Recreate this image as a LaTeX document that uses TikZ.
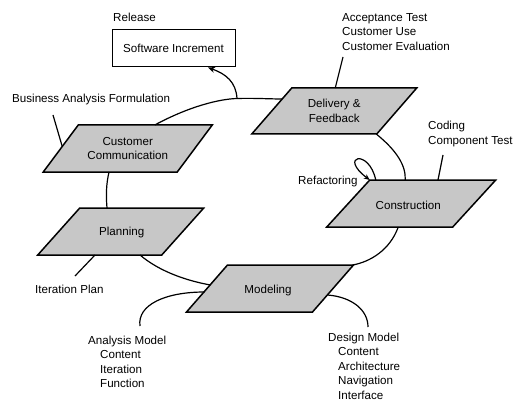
\documentclass[tikz,border=0pt]{standalone}
\usepackage{fontspec}
\setmainfont{Liberation Sans}
\usetikzlibrary{calc,arrows.meta}

% parallelogram around a named point: name, half edge, half slant, half height
\newcommand{\pgshape}[4]{%
  \filldraw[pgbody] ($(#1)+(-#2+#3,-#4)$) -- ($(#1)+(#2+#3,-#4)$)
    -- ($(#1)+(#2-#3,#4)$) -- ($(#1)+(-#2-#3,#4)$) -- cycle;}

\begin{document}
\begin{tikzpicture}[x=1pt,y=-1pt,
  font=\fontsize{11.6}{14.5}\selectfont,
  pgbody/.style={fill=black!22,draw=black,line width=1.5pt,line join=miter},
  phase/.style={inner sep=0pt,align=center},
  note/.style={inner sep=0pt,anchor=west,align=left},
  link/.style={draw=black,line width=1.2pt},
  boxstyle/.style={draw=black,line width=1pt,minimum width=123pt,minimum height=37pt,inner sep=0pt}]

\useasboundingbox (0,0) rectangle (522,401);

% phase centres
\coordinate (ccp) at (127.75,148.5);
\coordinate (plp) at (120.75,231.5);
\coordinate (dfp) at (334.25,111);
\coordinate (cop) at (411.25,203.5);
\coordinate (mop) at (270,288.5);

% phase shapes
\pgshape{ccp}{67}{17.5}{23.5}
\pgshape{plp}{62}{21}{23.5}
\pgshape{dfp}{62.5}{20}{23}
\pgshape{cop}{63}{21.5}{23.5}
\pgshape{mop}{63}{20.5}{23.5}

% phase labels
\node[phase] (cc) at (ccp) {Customer\\Communication};
\node[phase] (pl) at ($(plp)+(1,1)$) {Planning};
\node[phase] (df) at (dfp) {Delivery \&\\Feedback};
\node[phase] (co) at ($(cop)+(-3,1.5)$) {Construction};
\node[phase] (mo) at ($(mop)+(-2,1.5)$) {Modeling};

% release box
\node[boxstyle] (si) at (173.5,48.5) {Software Increment};
\node[note] (rel) at (113,17) {Release};

% notes
\node[note] (baf) at (12,100) {Business Analysis Formulation};
\node[note] (acc) at (342,32) {Acceptance Test\\Customer Use\\Customer Evaluation};
\node[note] (cod) at (428,134) {Coding\\Component Test};
\node[note] (ref) at (298,182) {Refactoring};
\node[note] (itp) at (35,289) {Iteration Plan};
\node[note] (anm) at (88,362) {Analysis Model\\\hspace*{12pt}Content\\\hspace*{12pt}Iteration\\\hspace*{12pt}Function};
\node[note,anchor=north west] (dsm) at (328,332.5) {Design Model\\\hspace*{10pt}Content\\\hspace*{10pt}Architecture\\\hspace*{10pt}Navigation\\\hspace*{10pt}Interface};

% free ends of the note leaders
\coordinate (bafend) at (53,115);
\coordinate (accend) at (343,57);
\coordinate (codend) at (443,155);
\coordinate (itpend) at (75,276);
\coordinate (anmend) at (140,326);
\coordinate (dsmend) at (368,327);
\coordinate (relstart) at (237,98.5);

% the process cycle
\draw[link] ($(ccp)+(27,-23.5)$) .. controls (190,106) and (220,99) .. (relstart)
  .. controls (255,98) and (270,99) .. ($(dfp)+(-52,-12)$);
\draw[link] ($(dfp)+(42,23)$) .. controls (396,150) and (406,165) .. ($(cop)+(-6,-23.5)$);
\draw[link] ($(cop)+(-13,23.5)$) .. controls (390,250) and (370,262) .. ($(mop)+(82.5,-23.5)$);
\draw[link] ($(plp)+(19.25,23.5)$) .. controls (160,272) and (188,281) .. ($(mop)+(-59.5,-3.5)$);
\draw[link] ($(ccp)+(-18.75,23.5)$) .. controls (106,185) and (106,196) .. ($(plp)+(-13.75,-23.5)$);

% release arrow
\draw[link,-{Stealth[length=7pt,width=6pt]}] (relstart) .. controls (236,82) and (226,74) .. (si.south east -| 208,0);

% refactoring loop
\draw[link,-{Stealth[length=6pt,width=5pt]}] ($(cop)+(-35.5,-23.5)$) .. controls (369,148) and (338,156) .. ($(cop)+(-41.5,-23.5)$);

% note leaders
\draw[link] (bafend) -- ($(ccp)+(-65.5,-2)$);
\draw[link] (accend) -- ($(dfp)+(1,-23)$);
\draw[link] (codend) -- ($(cop)+(26.75,-23.5)$);
\draw[link] (itpend) -- ($(plp)+(-25.75,23.5)$);
\draw[link] (anmend) .. controls (137,305) and (165,292) .. ($(mop)+(-65.5,3.5)$);
\draw[link] ($(mop)+(57.6,6.5)$) .. controls (352,297) and (368,310) .. (dsmend);

\end{tikzpicture}
\end{document}
